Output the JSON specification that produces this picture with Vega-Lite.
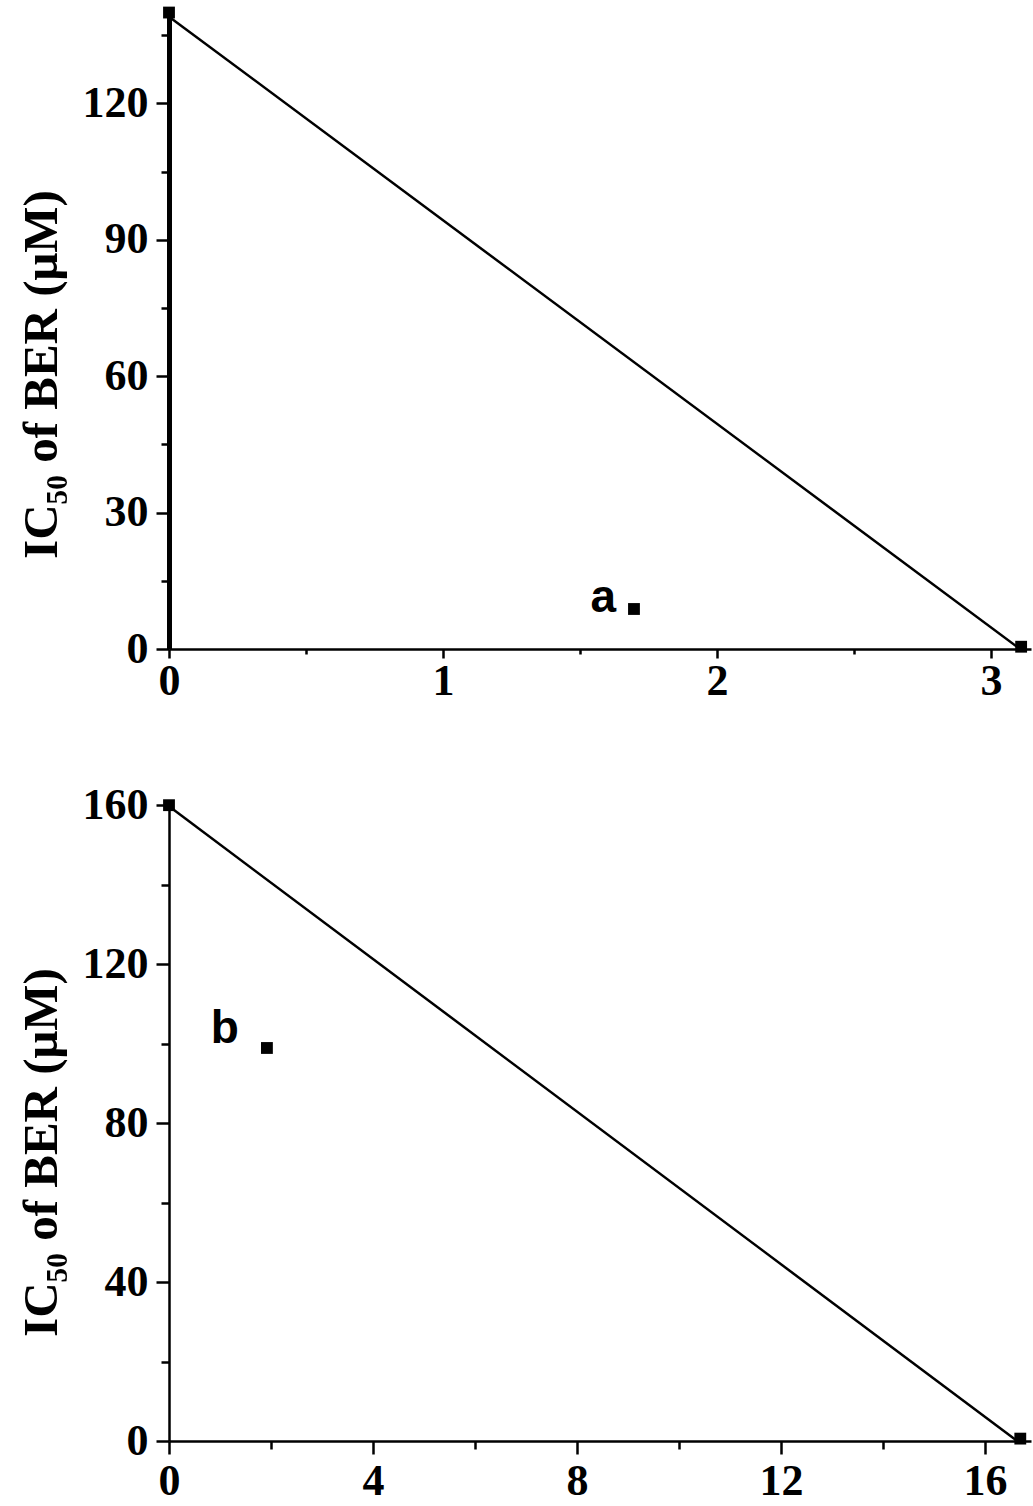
{
  "$schema": "https://vega.github.io/schema/vega-lite/v6.json",
  "padding": {"left": 17, "top": 6, "right": 3, "bottom": 0},
  "background": "white",
  "spacing": 153,
  "bounds": "flush",
  "config": {
    "view": {"stroke": null},
    "axis": {
      "grid": false,
      "domainColor": "black",
      "domainWidth": 2.5,
      "tickColor": "black",
      "tickWidth": 2.5,
      "labelFont": "Liberation Serif",
      "labelFontWeight": "bold",
      "labelFontSize": 44,
      "labelColor": "black",
      "labelOverlap": false,
      "labelFlush": false,
      "titleFont": "Liberation Serif",
      "titleFontWeight": "bold",
      "titleFontSize": 49,
      "titleColor": "black"
    }
  },
  "vconcat": [
    {
      "width": 862,
      "height": 641,
      "data": {"values": [
        {"kind": "line", "x": 0, "y": 139.1, "label": null},
        {"kind": "line", "x": 3.106, "y": 0, "label": null},
        {"kind": "pt", "x": 0, "y": 140, "label": null},
        {"kind": "pt", "x": 3.11, "y": 0.5, "label": null},
        {"kind": "pt", "x": 1.697, "y": 8.8, "label": "a"}
      ]},
      "encoding": {
        "x": {"field": "x", "type": "quantitative",
          "scale": {"domain": [0, 3.146], "nice": false, "zero": false},
          "axis": {"title": null, "values": [0, 0.5, 1, 1.5, 2, 2.5, 3],
            "labelExpr": "datum.value % 1 === 0 ? format(datum.value, 'd') : ''",
            "tickSize": {"condition": {"test": "datum.value % 1 === 0", "value": 9}, "value": 5},
            "labelPadding": 1}},
        "y": {"field": "y", "type": "quantitative",
          "scale": {"domain": [0, 141], "nice": false, "zero": false},
          "axis": {"title": "IC₅₀ of BER (μM)", "values": [0, 15, 30, 45, 60, 75, 90, 105, 120, 135],
            "labelExpr": "datum.value % 30 === 0 ? datum.label : ''",
            "tickSize": {"condition": {"test": "datum.value % 30 === 0", "value": 13}, "value": 8},
            "domainWidth": 5,
            "labelPadding": 8,
            "titleX": -128, "titleY": 366, "titleAngle": -90,
            "titleAlign": "center", "titleBaseline": "middle"}}
      },
      "layer": [
        {"transform": [{"filter": "datum.kind === 'line'"}],
         "mark": {"type": "line", "color": "black", "strokeWidth": 2.5}},
        {"transform": [{"filter": "datum.kind === 'pt'"}],
         "mark": {"type": "point", "shape": "square", "filled": true, "color": "black", "size": 140, "opacity": 1}},
        {"transform": [{"filter": "datum.label !== null"}],
         "mark": {"type": "text", "font": "Liberation Sans", "fontWeight": "bold", "fontSize": 46, "color": "black",
           "align": "right", "baseline": "alphabetic", "dx": -18, "dy": 3},
         "encoding": {"text": {"field": "label"}}}
      ]
    },
    {
      "width": 862,
      "height": 639,
      "data": {"values": [
        {"kind": "line", "x": 0, "y": 159.7, "label": null},
        {"kind": "line", "x": 16.63, "y": 0, "label": null},
        {"kind": "pt", "x": 0, "y": 160, "label": null},
        {"kind": "pt", "x": 16.69, "y": 0.6, "label": null},
        {"kind": "pt", "x": 1.92, "y": 98.9, "label": "b"}
      ]},
      "encoding": {
        "x": {"field": "x", "type": "quantitative",
          "scale": {"domain": [0, 16.9], "nice": false, "zero": false},
          "axis": {"title": null, "values": [0, 2, 4, 6, 8, 10, 12, 14, 16],
            "labelExpr": "datum.value % 4 === 0 ? datum.label : ''",
            "tickSize": {"condition": {"test": "datum.value % 4 === 0", "value": 13}, "value": 8},
            "labelPadding": 5}},
        "y": {"field": "y", "type": "quantitative",
          "scale": {"domain": [0, 160.8], "nice": false, "zero": false},
          "axis": {"title": "IC₅₀ of BER (μM)", "values": [0, 20, 40, 60, 80, 100, 120, 140, 160],
            "labelExpr": "datum.value % 40 === 0 ? datum.label : ''",
            "tickSize": {"condition": {"test": "datum.value % 40 === 0", "value": 13}, "value": 8},
            "labelPadding": 8,
            "titleX": -128, "titleY": 350, "titleAngle": -90,
            "titleAlign": "center", "titleBaseline": "middle"}}
      },
      "layer": [
        {"transform": [{"filter": "datum.kind === 'line'"}],
         "mark": {"type": "line", "color": "black", "strokeWidth": 2.5}},
        {"transform": [{"filter": "datum.kind === 'pt'"}],
         "mark": {"type": "point", "shape": "square", "filled": true, "color": "black", "size": 140, "opacity": 1}},
        {"transform": [{"filter": "datum.label !== null"}],
         "mark": {"type": "text", "font": "Liberation Sans", "fontWeight": "bold", "fontSize": 46, "color": "black",
           "align": "right", "baseline": "alphabetic", "dx": -28, "dy": -5},
         "encoding": {"text": {"field": "label"}}}
      ]
    }
  ]
}
